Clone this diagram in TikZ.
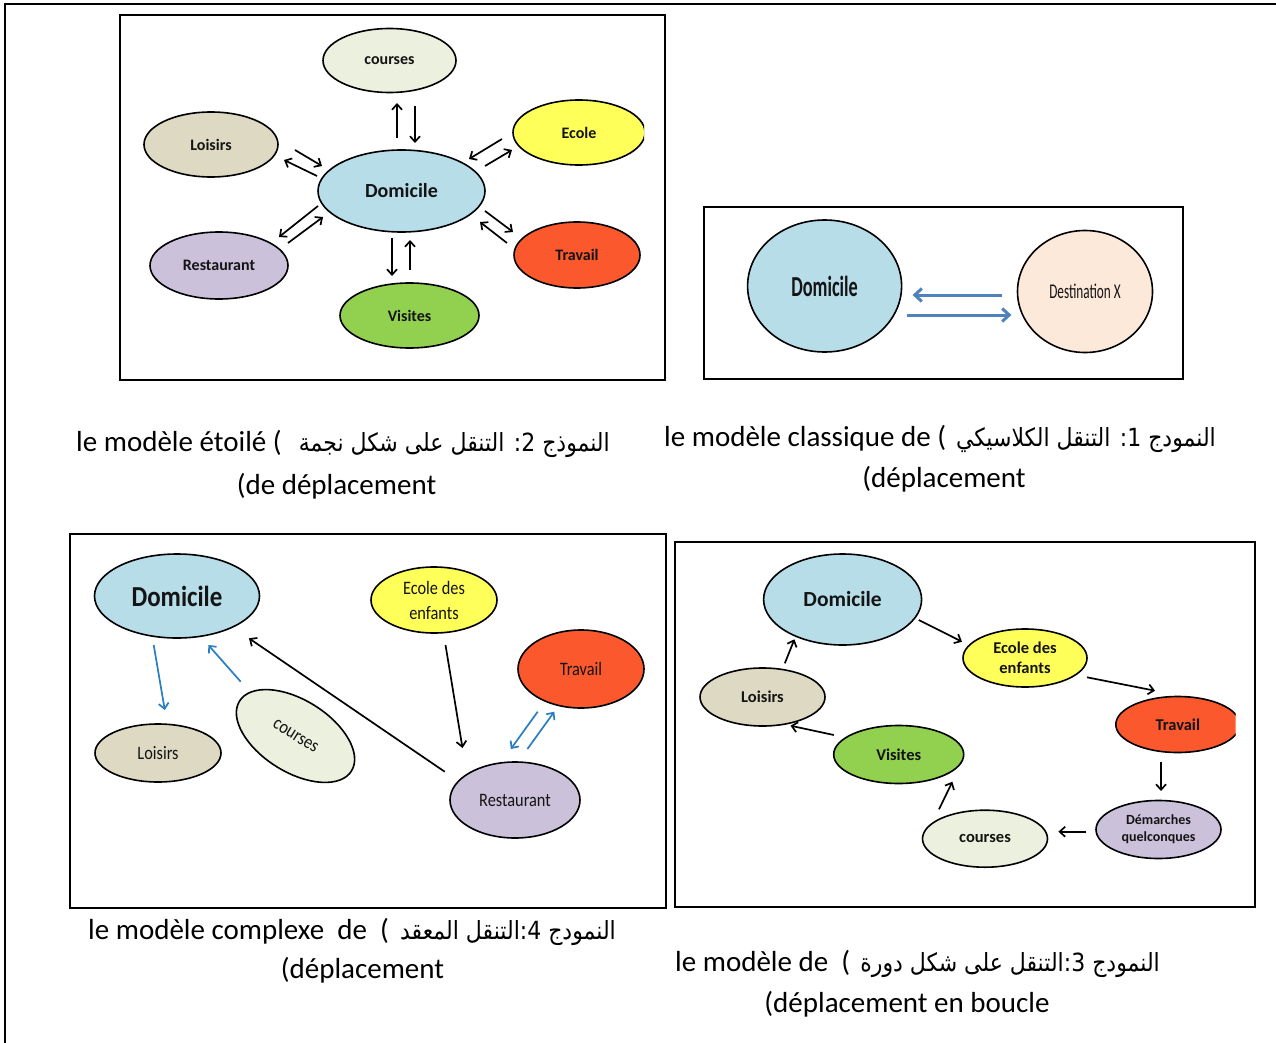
\documentclass[tikz,border=0pt]{standalone}
\usepackage{fontspec}
\usetikzlibrary{shapes.geometric,arrows.meta}
\setmainfont{Carlito}
\newfontfamily\arabicfont[Script=Arabic,FakeStretch=0.88]{DejaVu Sans}
\newfontfamily\condA[FakeStretch=0.63]{Carlito}
\newfontfamily\condB[FakeStretch=0.86]{Carlito}
\TeXXeTstate=1
\definecolor{cDom}{RGB}{183,221,232}
\definecolor{cCou}{RGB}{236,240,222}
\definecolor{cLoi}{RGB}{221,217,195}
\definecolor{cEco}{RGB}{255,255,90}
\definecolor{cTra}{RGB}{252,88,45}
\definecolor{cRes}{RGB}{204,193,218}
\definecolor{cVis}{RGB}{146,208,80}
\definecolor{cDst}{RGB}{253,233,217}
\definecolor{cBlue}{RGB}{40,125,195}
\definecolor{cSteel}{RGB}{79,129,189}
\definecolor{cTxt}{RGB}{20,20,20}
\begin{document}
\begin{tikzpicture}[x=1pt,y=-1pt,
  ell/.style={ellipse, draw=black, line width=1.6pt, inner sep=0pt, text=cTxt, align=center},
  arr/.style={line width=1.7pt, -{Straight Barb[length=5.5pt,width=10pt]}},
  barr/.style={arr, draw=cBlue},
  bigarr/.style={line width=3pt, draw=cSteel, -{Straight Barb[length=7pt,width=13pt]}},
  frame/.style={line width=1.5pt},
  fP/.style={font=\bfseries\fontsize{16}{19}\selectfont},
  fPD/.style={font=\bfseries\fontsize{20}{24}\selectfont},
  fL/.style={font=\bfseries\fontsize{16.5}{20}\selectfont},
  fLD/.style={font=\bfseries\fontsize{21.5}{26}\selectfont},
  fLS/.style={font=\bfseries\fontsize{14}{16.7}\selectfont},
  fX/.style={font=\condB\fontsize{19}{25}\selectfont},
  fXD/.style={font=\condB\bfseries\fontsize{29}{34}\selectfont},
  captxt/.style={inner sep=0pt, font=\fontsize{29}{34}\selectfont},
  capar/.style={inner sep=0pt, font=\arabicfont\fontsize{25}{30}\selectfont}]
\useasboundingbox (0,0) rectangle (1276,1043);
% outer frame
\draw[line width=2pt] (1276,4.5) -- (5,4.5) -- (5,1043);
% ---------- panel 2 : star ----------
\draw[frame] (120,15) rectangle (665,380);
\node[ell, fill=cCou, minimum width=133, minimum height=64, fP] (s-cou) at (389.5,60.5) {courses};
\node[ell, fill=cLoi, minimum width=134, minimum height=65, fP] (s-loi) at (211,144.5) {Loisirs};
\begin{scope}
\clip (120,15) rectangle (644,380);
\node[ell, fill=cEco, minimum width=132, minimum height=65, fP] (s-eco) at (579,132.5) {Ecole};
\end{scope}
\node[ell, fill=cDom, minimum width=167, minimum height=82, fPD] (s-dom) at (401.5,191) {Domicile};
\node[ell, fill=cRes, minimum width=138, minimum height=67, fP] (s-res) at (219,265.5) {Restaurant};
\node[ell, fill=cTra, minimum width=126, minimum height=66, fP] (s-tra) at (577,255) {Travail};
\node[ell, fill=cVis, minimum width=139, minimum height=65, fP] (s-vis) at (409.5,315.5) {Visites};
\draw[arr] (397,138) -- (397,103);
\draw[arr] (415,106) -- (415,143);
\draw[arr] (295,150) -- (322,166);
\draw[arr] (317,176) -- (284,160);
\draw[arr] (502,139) -- (469,159);
\draw[arr] (485,166) -- (512,150);
\draw[arr] (318,206) -- (279,237);
\draw[arr] (288,243) -- (323,217);
\draw[arr] (485,211) -- (513,232);
\draw[arr] (507,243) -- (480,222);
\draw[arr] (392,238) -- (392,276);
\draw[arr] (410,270) -- (410,240);
% ---------- panel 1 : classic ----------
\draw[frame] (704,207) rectangle (1183,379);
\node[ell, fill=cDom, minimum width=154, minimum height=132, font=\condA\bfseries\fontsize{29}{34}\selectfont] (c-dom) at (824.6,286) {Domicile};
\node[ell, fill=cDst, minimum width=135, minimum height=122, font=\condA\fontsize{21}{25}\selectfont] (c-dst) at (1085,291.5) {Destination X};
\draw[bigarr] (1002,295) -- (912.6,295);
\draw[bigarr] (907,315) -- (1011.4,315);
% ---------- panel 4 : complex ----------
\draw[frame] (70,534) rectangle (666,908);
\node[ell, fill=cDom, minimum width=165, minimum height=84, fXD] (x-dom) at (177,596) {Domicile};
\node[ell, fill=cEco, minimum width=126, minimum height=66, fX] (x-eco) at (434,600) {Ecole des\\enfants};
\node[ell, fill=cTra, minimum width=126, minimum height=78, fX] (x-tra) at (581,669) {Travail};
\node[ell, fill=cLoi, minimum width=126, minimum height=58, fX] (x-loi) at (158,753) {Loisirs};
\node[ell, fill=cCou, minimum width=132, minimum height=72, rotate=-32, fX] (x-cou) at (295.5,736) {courses};
\node[ell, fill=cRes, minimum width=130, minimum height=76, fX] (x-res) at (515,800) {Restaurant};
\draw[barr] (153.7,645) -- (164.8,710);
\draw[barr] (240.7,681.7) -- (208.3,645);
\draw[arr] (444.7,771.7) -- (249,638.3);
\draw[arr] (445.5,645) -- (462.5,748);
\draw[barr] (537.7,711.7) -- (510.8,749);
\draw[barr] (527.4,749) -- (554.3,711.7);
% ---------- panel 3 : loop ----------
\draw[frame] (675,542) rectangle (1255,907);
\node[ell, fill=cDom, minimum width=158, minimum height=91, fLD] (l-dom) at (842.6,599.5) {Domicile};
\node[ell, fill=cEco, minimum width=124, minimum height=58, fL] (l-eco) at (1025,658) {Ecole des\\enfants};
\begin{scope}
\clip (675,542) rectangle (1235.6,907);
\node[ell, fill=cTra, minimum width=124, minimum height=56, fL] (l-tra) at (1177.8,724.5) {Travail};
\end{scope}
\node[ell, fill=cLoi, minimum width=125, minimum height=58, fL] (l-loi) at (762.5,697) {Loisirs};
\node[ell, fill=cVis, minimum width=130, minimum height=58, fL] (l-vis) at (898.7,754.5) {Visites};
\node[ell, fill=cCou, minimum width=125, minimum height=57, fL] (l-cou) at (985,838.7) {courses};
\node[ell, fill=cRes, minimum width=125, minimum height=58, fLS] (l-dem) at (1158.5,829.5) {Démarches\\quelconques};
\draw[arr] (918.8,620) -- (962,641.7);
\draw[arr] (1087,677.3) -- (1155,690.7);
\draw[arr] (1161,761.7) -- (1161,791);
\draw[arr] (1086.4,831.7) -- (1058.4,831.7);
\draw[arr] (939,809.3) -- (952.4,781.7);
\draw[arr] (833.8,735) -- (790.5,725.7);
\draw[arr] (784.8,663.3) -- (794.4,639.3);
% ---------- captions ----------
\node[captxt, anchor=base west] (t2a) at (76,451) {le modèle étoilé (};
\node[capar, anchor=base east] (t2b) at (610,451) {\beginR النموذج 2: التنقل على شكل نجمة\endR};
\node[captxt, anchor=base] (t2c) at (336.5,494) {(de déplacement};
\node[captxt, anchor=base west] (t1a) at (664,446) {le modèle classique de (};
\node[capar, anchor=base east] (t1b) at (1216,446) {\beginR النمودج 1: التنقل الكلاسيكي\endR};
\node[captxt, anchor=base] (t1c) at (944,487) {(déplacement};
\node[captxt, anchor=base west] (t4a) at (88,939) {le modèle complexe\ \ de\ \ (};
\node[capar, anchor=base east] (t4b) at (616,939) {\beginR النمودج 4:التنقل المعقد\endR};
\node[captxt, anchor=base] (t4c) at (362.5,978) {(déplacement};
\node[captxt, anchor=base west] (t3a) at (675,971) {le modèle de\ \ (};
\node[capar, anchor=base east] (t3b) at (1160,971) {\beginR النمودج 3:التنقل على شكل دورة\endR};
\node[captxt, anchor=base] (t3c) at (907,1012) {(déplacement en boucle};
\end{tikzpicture}
\end{document}
